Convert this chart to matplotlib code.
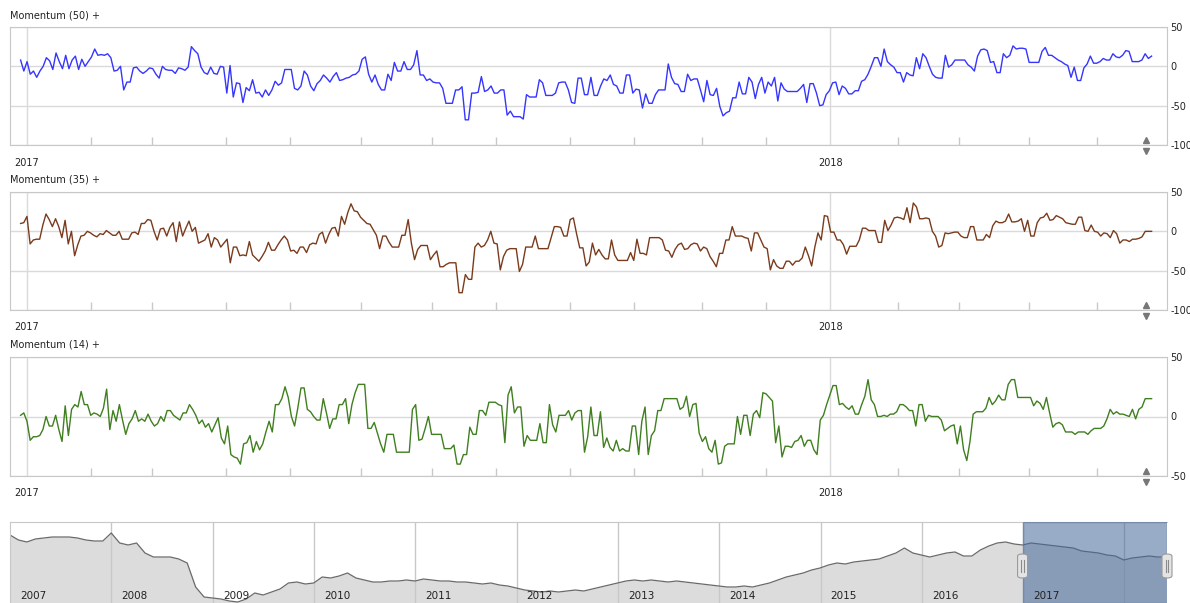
import numpy as np
import pandas as pd
import matplotlib
matplotlib.use("Agg")
import matplotlib.pyplot as plt
from matplotlib.patches import FancyBboxPatch
from matplotlib.lines import Line2D
from pandas.tseries.holiday import USFederalHolidayCalendar
from pandas.tseries.offsets import CustomBusinessDay

plt.rcParams["axes.unicode_minus"] = False

W, H = 1190, 603

# trading days shown in the indicator panels
days = pd.date_range("2016-12-29", "2018-05-24",
                     freq=CustomBusinessDay(calendar=USFederalHolidayCalendar()))

mom50 = [
    8, -6, 6, -10, -6, -14, -6, 0, 11, 7, -4, 17, 6, -3, 14, -3, 8, 13, -4, 9, 0, 6, 12, 22, 14, 15, 14, 16, 11, -6,
    -5, 0, -30, -20, -20, -2, -1, -6, -9, -6, -2, -3, -10, -15, 0, -4, -5, -5, -9, -2, -3, -5, -1, 25, 20, 16, -1, -8,
    -10, -1, -9, -10, 0, -1, -34, 1, -39, -21, -22, -46, -27, -31, -17, -34, -33, -39, -30, -37, -30, -19, -24, -21,
    -4, -4, -4, -28, -30, -25, -6, -11, -25, -31, -22, -18, -11, -15, -20, -13, -8, -18, -17, -15, -14, -11, -10, -6,
    9, 12, -10, -20, -11, -23, -30, -30, -10, -18, 5, -6, -6, 6, -4, -4, 2, 20, -11, -11, -18, -16, -20, -21, -21,
    -28, -47, -47, -47, -30, -30, -26, -68, -68, -34, -34, -33, -13, -32, -30, -25, -34, -34, -30, -30, -62, -57, -64,
    -64, -64, -67, -36, -39, -39, -39, -17, -21, -37, -37, -37, -34, -21, -20, -20, -30, -46, -47, -15, -15, -36, -36,
    -14, -37, -37, -25, -16, -18, -11, -23, -25, -34, -34, -11, -11, -34, -29, -30, -53, -35, -47, -47, -36, -30, -30,
    -30, 3, -14, -22, -23, -32, -32, -10, -18, -16, -16, -30, -45, -18, -36, -37, -28, -51, -63, -59, -57, -40, -40,
    -20, -35, -35, -14, -20, -41, -23, -14, -34, -20, -25, -14, -44, -21, -29, -32, -32, -32, -32, -28, -23, -46, -22,
    -22, -34, -50, -49, -36, -31, -21, -20, -36, -25, -28, -35, -35, -31, -31, -19, -17, -10, 0, 11, 11, 0, 22, 6, 2,
    -1, -8, -8, -20, -8, -11, -12, 11, -3, 16, 11, 0, -10, -14, -15, -15, 14, -1, 2, 8, 8, 8, 8, 2, -1, -6, 13, 21, 22,
    20, 5, 6, -8, -8, 16, 11, 14, 26, 22, 23, 23, 22, 5, 5, 5, 5, 19, 24, 14, 14, 11, 8, 6, 3, 1, -14, -1, -18, -18,
    -2, 3, 13, 4, 4, 6, 10, 8, 8, 16, 12, 11, 14, 20, 19, 6, 6, 6, 8, 16, 10, 13,
]

mom35 = [
    10, 11, 19, -16, -11, -10, -10, 8, 22, 15, 6, 16, 6, -8, 14, -16, 0, -31, -17, -6, -5, 0, -2, -5, -7, -3, -4, 1,
    -2, -5, -5, 0, -10, -10, -10, -2, -1, -4, 10, 10, 15, 14, 0, -11, 3, 4, -6, 5, 11, -13, 12, -6, 4, 13, 0, 5, -15,
    -13, -11, -3, -20, -8, -11, -20, -15, -10, -40, -20, -20, -31, -30, -31, -13, -30, -34, -38, -32, -25, -14, -24,
    -24, -17, -11, -6, -11, -25, -24, -28, -20, -20, -27, -17, -15, -16, -4, -1, -15, -4, 4, 5, -6, 19, 9, 24, 35, 26,
    25, 18, 14, 10, 9, 2, -5, -22, -6, -6, -14, -20, -20, -20, -5, -5, 15, -15, -36, -23, -18, -18, -18, -36, -30,
    -25, -45, -45, -42, -40, -40, -40, -78, -78, -55, -61, -61, -20, -15, -20, -18, -11, 0, -15, -16, -49, -32, -24,
    -22, -22, -22, -51, -42, -20, -20, -20, -6, -22, -22, -22, -22, -8, 6, 6, 5, -6, -6, 15, 17, -3, -21, -21,
    -44, -39, -15, -30, -23, -30, -35, -35, -11, -30, -37, -37, -37, -37, -27, -37, -10, -28, -28, -30, -8, -8, -8, -8,
    -11, -24, -25, -33, -23, -17, -15, -23, -22, -17, -15, -16, -25, -20, -22, -32, -38, -45, -28, -28, -11, -11, 6,
    -6, -6, -6, -8, -9, -25, -2, -2, -11, -20, -22, -49, -36, -44, -47, -47, -38, -38, -43, -38, -38, -34, -20, -31,
    -44, -20, -2, -11, 20, 19, -1, -1, -11, -11, -17, -29, -19, -19, -19, -11, 4, 4, 1, 1, 1, -14, -14, 14, 1, 8, 17,
    18, 17, 15, 30, 11, 36, 31, 16, 16, 17, 16, 0, -6, -20, -18, -2, -3, -2, -1, -1, -6, -8, -8, 6, 6, -11, -11, -11,
    -4, -8, 7, 13, 11, 11, 13, 22, 12, 12, 13, 16, 0, 14, -6, -6, 11, 17, 18, 23, 14, 15, 20, 18, 16, 11, 10, 9, 9,
    18, 18, 1, 0, 8, 0, -1, -6, -2, -3, -8, 1, -3, -15, -11, -11, -13, -10, -10, -9, -7, 0, 0, 0,
]

mom14 = [
    1, 3, -4, -20, -17, -17, -16, -11, 0, -8, -8, 1, -11, -21, 9, -16, 6, 10, 8, 21, 10, 10, 1, 3, 2, 0, 7, 23, -11,
    5, -4, 10, -3, -15, -6, -2, 5, -4, -2, -4, 2, -4, -8, -6, 0, -4, 5, 5, 1, -1, -3, 3, 3, 10, 6, 1, -6, -3, -9, -6,
    -13, -7, -1, -18, -23, -8, -32, -34, -35, -40, -23, -22, -16, -30, -21, -28, -23, -13, -4, -13, 10, 10, 15, 25,
    16, 0, -8, 7, 24, 24, 6, 4, 0, -3, -3, 15, 3, -10, -2, -2, 10, 10, 15, -6, 10, 20, 27, 27, 27, -10, -10, -5, -14,
    -23, -30, -15, -15, -15, -30, -30, -30, -30, -30, 6, 10, -20, -19, -10, 0, -15, -15, -15, -15, -27, -27, -27, -24,
    -40, -40, -32, -32, -9, -15, -15, 5, 5, 1, 12, 12, 12, 10, 9, -22, 18, 25, 3, 8, 8, -25, -16, -20, -20, -20, -6,
    -22, -22, 10, -7, -13, 1, 1, 1, 5, -3, 3, 5, 5, -30, -17,
    8, -16, -16, 4, -26, -18, -26, -29, -20, -29, -27, -29, -29, -8, -8, -32, -4, 8, -32, -16, -12, 5, 5, 15, 15, 15,
    15, 15, 6, 8, 17, 0, 10, 11, -14, -21, -17, -27, -30, -20, -40, -39, -25, -23, -23, -23, 0, -15, 1, 1, -16, 2, 5,
    -1, 20, 19, 16, 13, -22, -8, -34, -25, -25, -26, -21, -20, -16, -25, -20, -20, -28, -32, -3, 1, 10, 18, 26, 26,
    10, 11, 8, 6, 9, 2, 2, 10, 17, 31, 14, 10, 0, 0, 1, 0, 2, 2, 4, 10, 10, 8, 5, 5, -8, 10, 10, -4, 1, 0, 0, 0, -3,
    -12, -10, -8, -7, -23, -8, -28, -37, -21, 2, 4, 4, 4, 7, 16, 10, 13, 18, 14, 14, 27, 31, 31, 16, 16, 16, 16, 16,
    9, 13, 11, 6, 16, 3, -9, -6, -5, -7, -13, -13, -13, -15, -13, -13, -13, -15, -12, -10, -10, -10, -8, -2, 6, 2, 4,
    2, 2, 1, 0, 6, -2, 6, 8, 15, 15, 15,
]

# navigator (long history), roughly one value per month
nav_start, nav_end = 2007.0, 2018.41
nav_price = [
    68, 63, 61, 64, 65, 66, 66, 66, 65, 63, 62, 62,
    70, 60, 58, 60, 50, 46, 46, 46, 44, 40, 16, 6,
    5, 4, 2, 1, 4, 10, 8, 11, 14, 20, 21, 19,
    20, 26, 25, 27, 30, 25, 23, 21, 21, 22, 22, 23,
    22, 24, 23, 22, 22, 21, 21, 20, 19, 20, 18, 17,
    15, 13, 12, 11, 12, 11, 12, 13, 12, 14, 16, 18,
    20, 22, 23, 22, 23, 22, 21, 22, 21, 20, 19, 18,
    17, 16, 16, 17, 16, 18, 20, 23, 26, 28, 30, 33,
    35, 38, 40, 39, 41, 42, 43, 44, 47, 50, 55, 50,
    48, 46, 48, 50, 51, 47, 47, 53, 57, 60, 61, 59,
    58, 60, 59, 58, 57, 56, 55, 52, 51, 50, 48, 47,
    43, 45, 46, 47, 46, 46,
]
nav_years = list(range(2007, 2018))

panels = [
    ("Momentum (50) +", mom50, "#3535ff", (-100, 50), [50, 0, -50, -100], 27, 145),
    ("Momentum (35) +", mom35, "#7a3b1c", (-100, 50), [50, 0, -50, -100], 192, 310),
    ("Momentum (14) +", mom14, "#3f7f1f", (-50, 50), [50, 0, -50], 357, 476),
]

GRID = "#dadada"
EDGE = "#c8c8c8"
TXT = "#222222"


def px_rect(left, top, right, bottom):
    return [left / W, 1 - bottom / H, (right - left) / W, (bottom - top) / H]


fig = plt.figure(figsize=(W / 100, H / 100), dpi=100)
fig.patch.set_facecolor("white")

year_idx = [i for i in range(1, len(days)) if days[i].year != days[i - 1].year]
month_idx = [i for i in range(1, len(days)) if days[i].month != days[i - 1].month]

for title, values, color, ylim, yticks, top, bottom in panels:
    ax = fig.add_axes(px_rect(10, top, 1167, bottom))
    x = np.linspace(0, len(days) - 1, len(values))
    ax.plot(x, values, color=color, lw=1.0, zorder=3)
    ax.set_xlim(-3.3, len(days) - 1 + 4.8)
    ax.set_ylim(*ylim)

    ax.yaxis.tick_right()
    ax.set_yticks(yticks)
    ax.set_yticklabels([str(v) for v in yticks], fontsize=7, color=TXT)
    ax.tick_params(axis="y", length=0, pad=2.5)

    ax.set_xticks(year_idx)
    ax.set_xticklabels([str(days[i].year) for i in year_idx], fontsize=7, color=TXT)
    ax.set_xticks(month_idx, minor=True)
    ax.tick_params(axis="x", which="major", length=0, pad=9)
    ax.tick_params(axis="x", which="minor", direction="in", length=6, color=EDGE, width=1)
    ax.grid(True, which="major", color=GRID, lw=1)
    ax.set_axisbelow(True)
    for s in ax.spines.values():
        s.set_color(EDGE)

    fig.text(10 / W, 1 - (top - 12) / H, title, fontsize=7, va="center", ha="left", color=TXT)

    # small up / down arrows in the corner
    h = bottom - top
    ax.plot([0.982], [5 / h], marker="^", ms=4.5, color="#777777", mec="#777777",
            transform=ax.transAxes, clip_on=False)
    ax.plot([0.982], [-6 / h], marker="v", ms=4.5, color="#777777", mec="#777777",
            transform=ax.transAxes, clip_on=False)

# navigator
nav = fig.add_axes(px_rect(10, 522, 1167, 603))
nx = np.linspace(nav_start, nav_end, len(nav_price))
nav.fill_between(nx, 0, nav_price, color="#dcdcdc", lw=0)
nav.plot(nx, nav_price, color="#6a6a6a", lw=0.9)
nav.set_xlim(2007, 2018.42)
nav.set_ylim(0, 81)
for yr in range(2008, 2019):
    nav.axvline(yr, color=EDGE, lw=1, zorder=1)
for yr in nav_years:
    nav.text(yr + 0.1, 7, str(yr), fontsize=7.5, va="center", ha="left", color=TXT, zorder=6)
nav.set_xticks([])
nav.set_yticks([])
for side in ["bottom", "right"]:
    nav.spines[side].set_visible(False)
for side in ["top", "left"]:
    nav.spines[side].set_color(EDGE)

sel_start = days[0].year + (days[0].dayofyear - 1) / 365.0
nav.axvspan(sel_start, 2018.42, facecolor="#46699a", alpha=0.55, edgecolor="#4f6f96", lw=1, zorder=4)

# drag handles
for xv in [sel_start, 2018.42]:
    xp = 10 + (xv - 2007) / (2018.42 - 2007) * 1157
    hb = FancyBboxPatch(((xp - 5) / W, 1 - 578 / H), 10 / W, 24 / H,
                        boxstyle="round,pad=0,rounding_size=0.004",
                        transform=fig.transFigure, fc="#e4e4e4", ec="#9a9a9a", lw=0.8, zorder=10)
    fig.add_artist(hb)
    for dx in (-1.2, 1.2):
        fig.add_artist(Line2D([(xp + dx) / W] * 2, [1 - 572 / H, 1 - 560 / H],
                              transform=fig.transFigure, color="#8a8a8a", lw=0.8, zorder=11))

fig.savefig("out.png", dpi=100, facecolor="white")
